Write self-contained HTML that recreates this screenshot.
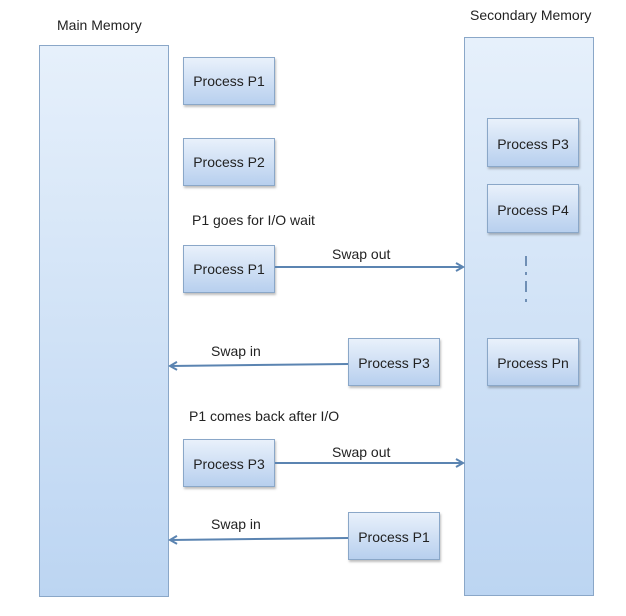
<!DOCTYPE html>
<html><head><style>body{margin:0;background:#fff}svg{display:block}</style></head><body>
<svg width="626" height="616" viewBox="0 0 626 616" xmlns="http://www.w3.org/2000/svg" font-family="Liberation Sans, sans-serif" font-size="14" fill="#222">
<defs>
<linearGradient id="big" x1="0" y1="0" x2="0" y2="1"><stop offset="0" stop-color="#e6f0fb"/><stop offset="1" stop-color="#bcd5f2"/></linearGradient>
<linearGradient id="box" x1="0" y1="0" x2="0" y2="1"><stop offset="0" stop-color="#e9f1fb"/><stop offset="1" stop-color="#b7cfee"/></linearGradient>
<filter id="sh" x="-10%" y="-10%" width="130%" height="140%"><feDropShadow dx="1" dy="2" stdDeviation="1" flood-color="#000" flood-opacity="0.25"/></filter>
<marker id="ah" markerWidth="10" markerHeight="10" refX="8" refY="5" orient="auto" markerUnits="userSpaceOnUse"><path d="M1,1 L8,5 L1,9" fill="none" stroke="#5b84b1" stroke-width="2"/></marker>
</defs>
<text x="57" y="30">Main Memory</text>
<text x="470" y="20">Secondary Memory</text>
<rect x="39.5" y="45.5" width="129" height="551" fill="url(#big)" stroke="#8aa7c8"/>
<rect x="464.5" y="37.5" width="129" height="558" fill="url(#big)" stroke="#8aa7c8"/>
<g stroke="#8aa7c8" fill="url(#box)" filter="url(#sh)">
<rect x="183.5" y="57.5" width="91" height="47"/>
<rect x="183.5" y="138.5" width="91" height="47"/>
<rect x="183.5" y="245.5" width="91" height="47"/>
<rect x="348.5" y="338.5" width="91" height="47"/>
<rect x="183.5" y="439.5" width="91" height="47"/>
<rect x="348.5" y="512.5" width="91" height="47"/>
<rect x="487.5" y="118.5" width="91" height="48"/>
<rect x="487.5" y="184.5" width="91" height="48"/>
<rect x="487.5" y="338.5" width="91" height="47"/>
</g>
<g text-anchor="middle">
<text x="229" y="86">Process P1</text>
<text x="229" y="167">Process P2</text>
<text x="229" y="274">Process P1</text>
<text x="394" y="368">Process P3</text>
<text x="229" y="469">Process P3</text>
<text x="394" y="542">Process P1</text>
<text x="533" y="149">Process P3</text>
<text x="533" y="215">Process P4</text>
<text x="533" y="368">Process Pn</text>
</g>
<text x="192" y="225">P1 goes for I/O wait</text>
<text x="189" y="421">P1 comes back after I/O</text>
<text x="332" y="259">Swap out</text>
<text x="332" y="457">Swap out</text>
<text x="211" y="356">Swap in</text>
<text x="211" y="529">Swap in</text>
<g stroke="#5b84b1" stroke-width="2" marker-end="url(#ah)">
<line x1="275" y1="267" x2="463" y2="267"/>
<line x1="348" y1="364" x2="170" y2="366"/>
<line x1="275" y1="463" x2="463" y2="463"/>
<line x1="348" y1="538" x2="170" y2="540"/>
</g>
<g stroke="#6f8fb5" stroke-width="2">
<line x1="526" y1="256" x2="526" y2="266"/>
<line x1="526" y1="272" x2="526" y2="275"/>
<line x1="526" y1="281" x2="526" y2="292"/>
<line x1="526" y1="299" x2="526" y2="302"/>
</g>
</svg>
</body></html>
